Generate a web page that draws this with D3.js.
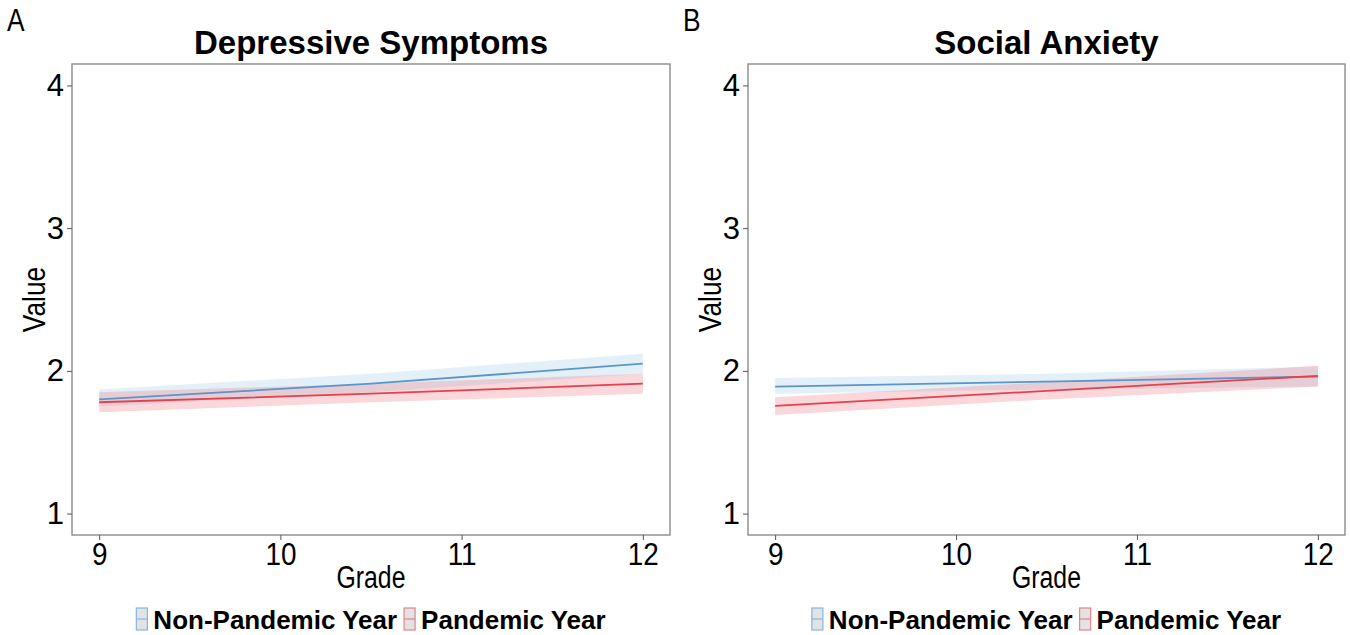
<!DOCTYPE html>
<html>
<head>
<meta charset="utf-8">
<script src="https://cdn.jsdelivr.net/npm/d3@7"></script>
<style>
  body { margin: 0; background: #fff; }
  svg text { fill: #000; }
</style>
</head>
<body>
<svg id="main-svg" width="1350" height="635"></svg>
<script>
var grades = [9, 10.5, 12];
var yTicks = [1, 2, 3, 4];
var xTicks = [9, 10, 11, 12];
var seriesNames = ['Non-Pandemic Year', 'Pandemic Year'];

// panel A: depressive symptoms
var depNonFit = [1.80, 1.91, 2.05];
var depNonLo = [1.75, 1.85, 1.98];
var depNonHi = [1.87, 1.98, 2.12];
var depPanFit = [1.78, 1.84, 1.91];
var depPanLo = [1.71, 1.78, 1.84];
var depPanHi = [1.85, 1.91, 1.98];

// panel B: social anxiety
var socNonFit = [1.89, 1.925, 1.96];
var socNonLo = [1.84, 1.87, 1.89];
var socNonHi = [1.95, 1.98, 2.03];
var socPanFit = [1.755, 1.86, 1.965];
var socPanLo = [1.69, 1.80, 1.89];
var socPanHi = [1.815, 1.92, 2.035];

var colors = { line: ['#5b95c9', '#e5404c'], fill: ['#9ecae1', '#e8707c'], key: ['#8dbadf', '#e58a92'] };

var panels = [
    { tag: 'A', title: 'Depressive Symptoms', left: 72, right: 670,
      fit: [depNonFit, depPanFit], lo: [depNonLo, depPanLo], hi: [depNonHi, depPanHi] },
    { tag: 'B', title: 'Social Anxiety', left: 748, right: 1345,
      fit: [socNonFit, socPanFit], lo: [socNonLo, socPanLo], hi: [socNonHi, socPanHi] }
];

var svg = d3.select('#main-svg');
var plotTop = 64, plotBottom = 535;
var font = '"Liberation Sans", Arial, sans-serif';

// squeeze text horizontally around its anchor point to mimic the condensed labels
function condensed(sel, fx) {
    sel.each(function() {
        var t = d3.select(this);
        var bx = +t.attr('x') || 0;
        t.attr('transform', (t.attr('transform') || '') + ' translate(' + bx + ',0) scale(' + fx + ',1) translate(' + (-bx) + ',0)');
    });
}

panels.forEach(function(p) {
    var x = d3.scaleLinear().domain([8.85, 12.15]).range([p.left, p.right]);
    var y = d3.scaleLinear().domain([0.85, 4.15]).range([plotBottom, plotTop]);
    var g = svg.append('g');
    var cx = (p.left + p.right) / 2;

    // ribbons first, then lines
    [0, 1].forEach(function(s) {
        var rows = grades.map(function(gr, i) { return [gr, p.lo[s][i], p.hi[s][i]]; });
        g.append('path')
            .attr('d', d3.area().x(function(d) { return x(d[0]); })
                .y0(function(d) { return y(d[1]); })
                .y1(function(d) { return y(d[2]); })(rows))
            .attr('fill', colors.fill[s])
            .attr('fill-opacity', 0.28);
    });
    [0, 1].forEach(function(s) {
        var rows = grades.map(function(gr, i) { return [gr, p.fit[s][i]]; });
        g.append('path')
            .attr('d', d3.line().x(function(d) { return x(d[0]); })
                .y(function(d) { return y(d[1]); })(rows))
            .attr('fill', 'none')
            .attr('stroke', colors.line[s])
            .attr('stroke-width', 1.8);
    });

    // panel border
    g.append('rect')
        .attr('x', p.left).attr('y', plotTop)
        .attr('width', p.right - p.left).attr('height', plotBottom - plotTop)
        .attr('fill', 'none').attr('stroke', '#8c8c8c').attr('stroke-width', 1.4);

    var xAxis = g.append('g').attr('transform', 'translate(0,' + plotBottom + ')')
        .call(d3.axisBottom(x).tickValues(xTicks).tickSize(5).tickPadding(3).tickFormat(d3.format('d')));
    var yAxis = g.append('g').attr('transform', 'translate(' + p.left + ',0)')
        .call(d3.axisLeft(y).tickValues(yTicks).tickSize(5).tickPadding(3).tickFormat(d3.format('d')));
    [xAxis, yAxis].forEach(function(a) {
        a.select('.domain').remove();
        a.selectAll('line').attr('stroke', '#555');
        a.selectAll('text').style('font-family', font).style('font-size', '31px');
    });
    xAxis.selectAll('text').call(condensed, 0.9);

    g.append('text').text(p.tag)
        .attr('x', p.left - 65).attr('y', 31)
        .style('font-family', font).style('font-size', '31px')
        .call(condensed, 0.85);
    g.append('text').text(p.title)
        .attr('x', cx).attr('y', 54).attr('text-anchor', 'middle')
        .style('font-family', font).style('font-weight', 'bold').style('font-size', '33px');
    g.append('text').text('Grade')
        .attr('x', cx).attr('y', 588).attr('text-anchor', 'middle')
        .style('font-family', font).style('font-size', '31px')
        .call(condensed, 0.8);
    g.append('text').text('Value')
        .attr('transform', 'translate(' + (p.left - 27) + ',' + ((plotTop + plotBottom) / 2) + ') rotate(-90) scale(0.85,1)')
        .attr('text-anchor', 'middle')
        .style('font-family', font).style('font-size', '31px');

    // legend
    var lg = g.append('g');
    var xpos = 0;
    seriesNames.forEach(function(name, s) {
        var item = lg.append('g').attr('transform', 'translate(' + xpos + ',0)');
        item.append('rect').attr('x', 0).attr('y', 608).attr('width', 11).attr('height', 22)
            .attr('fill', '#e3e3e3').attr('stroke', colors.key[s]).attr('stroke-width', 1.3);
        item.append('line').attr('x1', 0).attr('x2', 11).attr('y1', 619).attr('y2', 619)
            .attr('stroke', colors.key[s]).attr('stroke-width', 1.3);
        var t = item.append('text').text(name)
            .attr('x', 17).attr('y', 629)
            .style('font-family', font).style('font-weight', 'bold').style('font-size', '26px');
        xpos += 17 + t.node().getComputedTextLength() + 7;
    });
    var w = xpos - 7;
    lg.attr('transform', 'translate(' + (cx - w / 2) + ',0)');
});
</script>
</body>
</html>
